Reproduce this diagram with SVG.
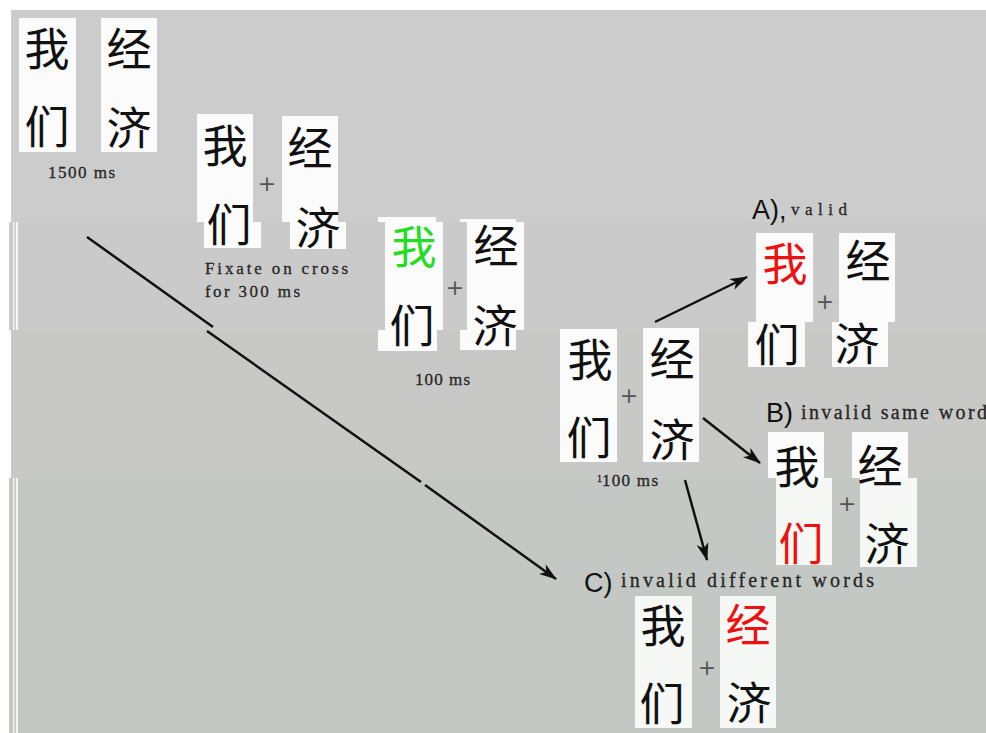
<svg xmlns="http://www.w3.org/2000/svg" width="986" height="733" viewBox="0 0 986 733">
<style>
.box{fill:#fbfbfb}
.box4{fill:#f5f8f5}
.cj{font-family:"Noto Sans CJK SC","Noto Sans CJK JP",sans-serif;font-size:45px;fill:#111;text-anchor:middle;dominant-baseline:central}
.red{fill:#ee1111}
.grn{fill:#22dd22}
.pl{font-family:"DejaVu Sans",sans-serif;font-size:22px;fill:#555;text-anchor:middle;dominant-baseline:central}
.mono{font-family:"Liberation Serif",serif;font-size:17px;fill:#262626;stroke:#262626;stroke-width:0.3}
.mono2{font-family:"Liberation Serif",serif;font-size:20px;fill:#262626;stroke:#262626;stroke-width:0.3}
.lab{font-family:"Liberation Sans",Arial,sans-serif;font-size:27px;fill:#111}
.ln{stroke:#111;stroke-width:2.5;fill:none}
</style>
<defs>
<marker id="ah" viewBox="0 0 18 12" refX="17" refY="6" markerWidth="18" markerHeight="12" orient="auto" markerUnits="userSpaceOnUse">
<path d="M0,0 L18,6 L0,12 L5,6 z" fill="#111"/>
</marker>
</defs>
<rect x="0" y="0" width="986" height="733" fill="#ffffff"/>
<g id="background">
<rect x="11" y="10" width="975" height="212" fill="#cccccc"/>
<rect x="9" y="222" width="977" height="108" fill="#cacaca"/>
<rect x="11" y="330" width="975" height="148" fill="#c8c8c6"/>
<rect x="9" y="478" width="977" height="255" fill="#c3c8c4"/>
<rect x="13" y="222" width="1.5" height="108" fill="#f2f2f2"/>
<rect x="16" y="222" width="2" height="108" fill="#f6f6f6"/>
<rect x="13" y="478" width="1.5" height="255" fill="#eef2ee"/>
<rect x="16" y="478" width="2" height="255" fill="#f3f6f3"/>
</g>
<g id="connectors">
<path class="ln" d="M87,237 L213,327 M207,331 L421,482 M425,485 L556,579" marker-end="url(#ah)"/>
<path class="ln" d="M655,322 L747,277" marker-end="url(#ah)"/>
<path class="ln" d="M703,418 L760,463" marker-end="url(#ah)"/>
<path class="ln" d="M685,480 L707,560" marker-end="url(#ah)"/>
</g>
<g id="node-1500ms">
<rect class="box" x="19" y="18" width="57" height="134"/>
<rect class="box" x="101" y="18" width="56" height="134"/>
<text class="cj" x="47" y="46">我</text>
<text class="cj" x="47" y="124">们</text>
<text class="cj" x="129" y="46">经</text>
<text class="cj" x="129" y="125">济</text>
<text class="mono" x="48" y="178" textLength="67" lengthAdjust="spacing">1500 ms</text>
</g>
<g id="node-fixate">
<rect class="box" x="197" y="114" width="56" height="108"/>
<rect class="box" x="204" y="222" width="57" height="26"/>
<rect class="box" x="282" y="116" width="56" height="106"/>
<rect class="box" x="290" y="222" width="56" height="27"/>
<text class="cj" x="225" y="143">我</text>
<text class="cj" x="229" y="222">们</text>
<text class="cj" x="310" y="145">经</text>
<text class="cj" x="318" y="225">济</text>
<text class="pl" x="267" y="183">+</text>
<text class="mono" x="205" y="274" textLength="143" lengthAdjust="spacing">Fixate on cross</text>
<text class="mono" x="205" y="297" textLength="95" lengthAdjust="spacing">for 300 ms</text>
</g>
<g id="node-100ms">
<rect class="box" x="378" y="217" width="58" height="5"/>
<rect class="box" x="385" y="222" width="58" height="108"/>
<rect class="box" x="378" y="330" width="59" height="21"/>
<rect class="box" x="460" y="219" width="56" height="3"/>
<rect class="box" x="467" y="222" width="57" height="108"/>
<rect class="box" x="460" y="330" width="56" height="20"/>
<text class="cj grn" x="414" y="244">我</text>
<text class="cj" x="412" y="323">们</text>
<text class="cj" x="496" y="243">经</text>
<text class="cj" x="495" y="323">济</text>
<text class="pl" x="455" y="287">+</text>
<text class="mono" x="415" y="385" textLength="55" lengthAdjust="spacing">100 ms</text>
</g>
<g id="node-center">
<rect class="box" x="560" y="329" width="57" height="133"/>
<rect class="box" x="643" y="328" width="56" height="134"/>
<text class="cj" x="590" y="357">我</text>
<text class="cj" x="589" y="435">们</text>
<text class="cj" x="672" y="356">经</text>
<text class="cj" x="672" y="437">济</text>
<text class="pl" x="629" y="395">+</text>
<text class="mono" x="597" y="486"><tspan font-size="10" dy="-4">1</tspan><tspan dy="4" textLength="56" lengthAdjust="spacing">100 ms</tspan></text>
</g>
<g id="node-a-valid">
<text class="lab" x="752" y="219">A),</text>
<text class="mono" x="791" y="215" font-size="15" textLength="56" lengthAdjust="spacing">valid</text>
<rect class="box" x="756" y="233" width="57" height="89"/>
<rect class="box" x="748" y="322" width="57" height="45"/>
<rect class="box" x="839" y="233" width="56" height="89"/>
<rect class="box" x="832" y="322" width="56" height="45"/>
<text class="cj red" x="785" y="261">我</text>
<text class="cj" x="777" y="342">们</text>
<text class="cj" x="868" y="258">经</text>
<text class="cj" x="857" y="341">济</text>
<text class="pl" x="825" y="301">+</text>
</g>
<g id="node-b-invalid-same">
<text class="lab" x="766" y="422">B)</text>
<text class="mono2" x="801" y="419" textLength="186" lengthAdjust="spacing">invalid same word</text>
<rect class="box" x="768" y="432" width="56" height="46"/>
<rect class="box4" x="776" y="478" width="56" height="87"/>
<rect class="box" x="852" y="432" width="56" height="46"/>
<rect class="box4" x="860" y="478" width="57" height="89"/>
<text class="cj" x="797" y="464">我</text>
<text class="cj" x="880" y="463">经</text>
<text class="cj red" x="801" y="541">们</text>
<text class="cj" x="887" y="541">济</text>
<text class="pl" x="847" y="503">+</text>
</g>
<g id="node-c-invalid-different">
<text class="lab" x="584" y="592">C)</text>
<text class="mono2" x="621" y="587" textLength="253" lengthAdjust="spacing">invalid different words</text>
<rect class="box4" x="635" y="596" width="57" height="132"/>
<rect class="box4" x="720" y="596" width="56" height="132"/>
<text class="cj" x="663" y="623">我</text>
<text class="cj" x="662" y="701">们</text>
<text class="cj red" x="748" y="622">经</text>
<text class="cj" x="749" y="700">济</text>
<text class="pl" x="707" y="667">+</text>
</g>
</svg>
